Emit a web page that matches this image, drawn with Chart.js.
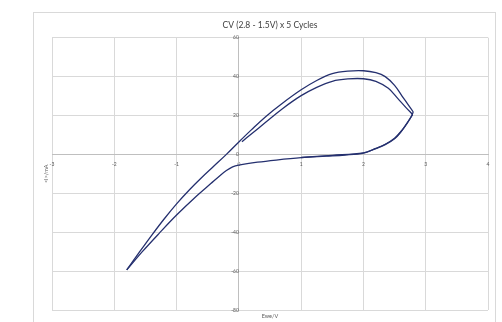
<!DOCTYPE html>
<html>
<head>
<meta charset="utf-8">
<title>CV (2.8 - 1.5V) x 5 Cycles</title>
<script src="https://cdn.jsdelivr.net/npm/chart.js@4"></script>
<style>
  html, body { margin: 0; padding: 0; background: #ffffff; }
  #wrap { width: 502px; height: 322px; }
</style>
</head>
<body>
<div id="wrap"><canvas id="cvChart" width="502" height="322"></canvas></div>
<script>
// CV data (Ewe in V, <I> in mA)

// first sweep up from the rest point
const innerUpV = [0.05, 0.2, 0.43, 0.7, 1.0, 1.25, 1.5, 1.75, 2.0, 2.2, 2.4, 2.55, 2.68, 2.79];
const innerUpI = [6.5, 10.5, 16.5, 23.5, 30.2, 34.5, 37.6, 38.8, 38.9, 37.6, 34, 28.8, 24.2, 20.5];

// return sweep down to the vertex
const lowerV = [2.79, 2.74, 2.68, 2.6, 2.5, 2.35, 2.2, 2.0, 1.7, 1.4, 1.0, 0.6, 0.3, 0.0, -0.1, -0.2, -0.3, -0.45, -0.7, -1.0, -1.28, -1.55, -1.8];
const lowerI = [20.5, 18, 15, 11.5, 8, 5, 3, 0.7, -0.3, -0.9, -1.7, -2.9, -4, -5.5, -6.4, -8.3, -10.8, -15, -22, -31.2, -40.6, -50, -59.4];

// following sweep back up (outer loop)
const outerUpV = [-1.8, -1.6, -1.4, -1.2, -1.0, -0.8, -0.6, -0.4, -0.2, 0.0, 0.2, 0.43, 0.7, 1.0, 1.25, 1.5, 1.75, 2.0, 2.2, 2.35, 2.5, 2.62, 2.72, 2.8];
const outerUpI = [-59.4, -50.4, -41.6, -33.2, -25.4, -18.4, -12, -6, 0, 6.4, 12.6, 19.4, 26.3, 33.2, 38, 41.5, 42.8, 43, 42, 40, 35.5, 30, 25.5, 21.8];

// next return sweep (overlaps the first one away from the tip)
const lower2V = [2.8, 2.76, 2.7, 2.62, 2.5, 2.35, 2.2, 2.0, 1.5, 1.0];
const lower2I = [21.8, 19, 16, 12.5, 8.3, 5.2, 3.1, 0.8, -0.5, -1.6];

const xTicks = [-3, -2, -1, 0, 1, 2, 3, 4];
const yTicks = [-80, -60, -40, -20, 0, 20, 40, 60];

const lineColor = '#25306f';

function toPoints(xs, ys) {
    return xs.map((x, i) => ({ x: x, y: ys[i] }));
}

function branch(xs, ys) {
    return {
        data: toPoints(xs, ys),
        showLine: true,
        borderColor: lineColor,
        borderWidth: 1.3,
        pointRadius: 0,
        tension: 0.35,
        fill: false
    };
}

// draws the outer frame and both axis titles
const frameAndTitles = {
    id: 'frameAndTitles',
    beforeDraw(chart) {
        const ctx = chart.ctx;
        ctx.save();
        ctx.fillStyle = '#ffffff';
        ctx.fillRect(0, 0, chart.width, chart.height);
        ctx.strokeStyle = '#d9d9d9';
        ctx.lineWidth = 1;
        ctx.strokeRect(33.5, 12.5, 462, 320);
        ctx.restore();
    },
    afterDraw(chart) {
        const ctx = chart.ctx;
        const area = chart.chartArea;
        ctx.save();
        ctx.fillStyle = '#595959';
        ctx.font = '5.5px Lato';
        ctx.textAlign = 'center';
        ctx.textBaseline = 'middle';
        ctx.fillText('Ewe/V', (area.left + area.right) / 2, 316);
        ctx.translate(46, (area.top + area.bottom) / 2);
        ctx.rotate(-Math.PI / 2);
        ctx.fillText('<I>/mA', 0, 0);
        ctx.restore();
    }
};

const ctx = document.getElementById('cvChart').getContext('2d');
new Chart(ctx, {
    type: 'scatter',
    data: {
        datasets: [
            branch(innerUpV, innerUpI),
            branch(lowerV, lowerI),
            branch(outerUpV, outerUpI),
            branch(lower2V, lower2I)
        ]
    },
    options: {
        responsive: false,
        animation: false,
        layout: { padding: { left: 52, right: 14, top: 12, bottom: 12 } },
        scales: {
            x: {
                type: 'linear',
                position: { y: 0 },
                min: -3,
                max: 4,
                afterBuildTicks: scale => { scale.ticks = xTicks.map(v => ({ value: v })); },
                ticks: { color: '#595959', font: { family: 'Lato', size: 5 }, padding: 7 },
                grid: { color: '#d9d9d9', drawTicks: false },
                border: { color: '#bfbfbf', width: 1 }
            },
            y: {
                type: 'linear',
                position: { x: 0 },
                min: -80,
                max: 60,
                afterBuildTicks: scale => { scale.ticks = yTicks.map(v => ({ value: v })); },
                ticks: { color: '#595959', font: { family: 'Lato', size: 5 }, padding: 4 },
                grid: { color: '#d9d9d9', drawTicks: false },
                border: { color: '#bfbfbf', width: 1 }
            }
        },
        plugins: {
            legend: { display: false },
            tooltip: { enabled: false },
            title: {
                display: true,
                text: 'CV (2.8 - 1.5V) x 5 Cycles',
                color: '#404040',
                font: { family: 'Lato', size: 8.5, weight: 'normal' },
                padding: { top: 8, bottom: 7.5 }
            }
        }
    },
    plugins: [frameAndTitles]
});
</script>
</body>
</html>
